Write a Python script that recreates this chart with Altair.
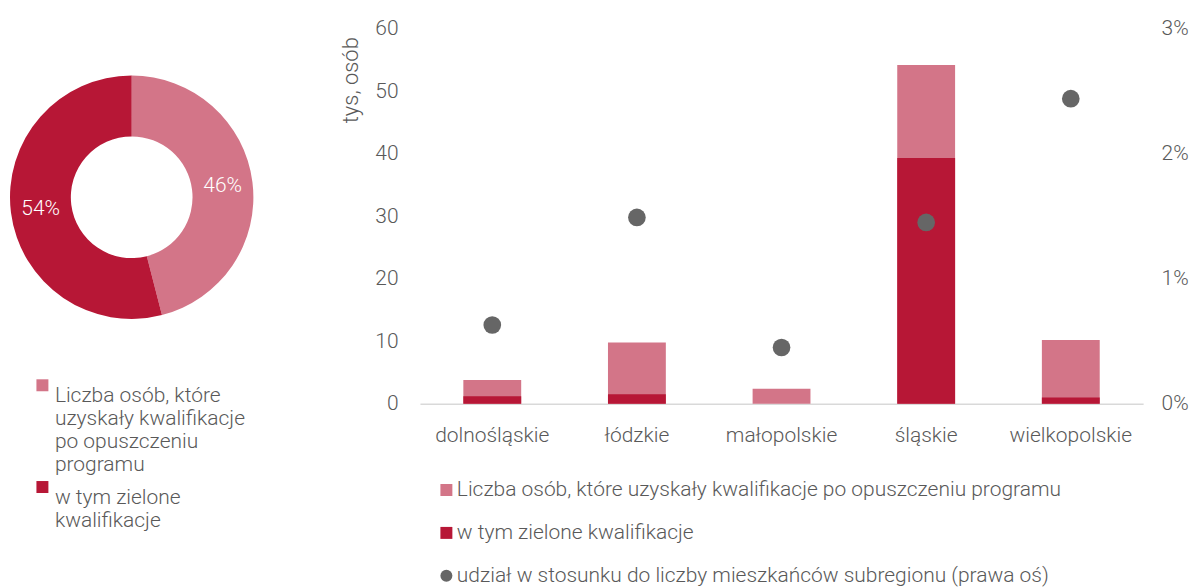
import altair as alt
import pandas as pd

FONT = "Roboto"
FW = 300
FS = 21
GRAY = "#595959"

regions = ["dolnośląskie", "łódzkie", "małopolskie", "śląskie", "wielkopolskie"]
total_qual = [3.8, 9.8, 2.4, 54.2, 10.2]      # tys. osób
green_qual = [1.2, 1.5, 0.0, 39.3, 1.0]       # tys. osób
share_pct = [0.63, 1.49, 0.45, 1.45, 2.44]    # % (prawa oś)

series_names = [
    "Liczba osób, które uzyskały kwalifikacje po opuszczeniu programu",
    "w tym zielone kwalifikacje",
    "udział w stosunku do liczby mieszkańców subregionu (prawa oś)",
]
series_colors = ["#D37588", "#B71736", "#666666"]
series_shapes = ["square", "square", "circle"]

donut_cats = ["Liczba osób, które uzyskały kwalifikacje po opuszczeniu programu",
              "w tym zielone kwalifikacje"]
donut_values = [46, 54]
donut_text = ["46%", "54%"]

# ---------------- tables ----------------
bar_total = pd.DataFrame({"region": regions, "series": series_names[0], "value": total_qual})
bar_green = pd.DataFrame({"region": regions, "series": series_names[1], "value": green_qual})
dots = pd.DataFrame({"region": regions, "series": series_names[2],
                     "share": [v / 100 for v in share_pct]})
donut_df = pd.DataFrame({"kat": donut_cats, "val": donut_values,
                         "ord": list(range(len(donut_cats))), "lab": donut_text})

color_scale = alt.Scale(domain=series_names, range=series_colors)
shape_scale = alt.Scale(domain=series_names, range=series_shapes)

bar_legend = alt.Legend(title=None, orient="none", legendX=16, legendY=452,
                        direction="vertical", symbolSize=144, labelFontSize=FS,
                        labelColor=GRAY, labelFont=FONT, labelFontWeight=FW,
                        rowPadding=21, labelLimit=900, labelOffset=0, padding=0)

x_enc = alt.X("region:N", sort=regions,
              scale=alt.Scale(paddingInner=0.6, paddingOuter=0.3),
              axis=alt.Axis(title=None, labelAngle=0, labelFontSize=FS, labelColor=GRAY,
                            labelFont=FONT, labelFontWeight=FW, labelPadding=21,
                            ticks=False, tickSize=0, domainColor="#D9D9D9", domainWidth=1.5))

y_left = alt.Y("value:Q", scale=alt.Scale(domain=[0, 60]),
               axis=alt.Axis(title="tys, osób", titleFontSize=22, titleColor=GRAY,
                             titleFont=FONT, titleFontWeight=FW, titleAnchor="end",
                             titleAngle=270, titlePadding=12, titleY=8,
                             values=list(range(0, 61, 10)), labelFontSize=FS,
                             labelColor=GRAY, labelFont=FONT, labelFontWeight=FW,
                             labelPadding=22, ticks=False, tickSize=0, domain=False,
                             grid=False))

bars_total = alt.Chart(bar_total).mark_bar().encode(
    x=x_enc, y=y_left,
    color=alt.Color("series:N", scale=color_scale, legend=bar_legend),
)
bars_green = alt.Chart(bar_green).mark_bar().encode(
    x=x_enc, y=alt.Y("value:Q", scale=alt.Scale(domain=[0, 60])),
    color=alt.Color("series:N", scale=color_scale, legend=bar_legend),
)
bars = alt.layer(bars_total, bars_green)

points = alt.Chart(dots).mark_point(filled=True, size=314, opacity=1).encode(
    x=x_enc,
    y=alt.Y("share:Q", scale=alt.Scale(domain=[0, 0.03]),
            axis=alt.Axis(orient="right", title=None, format=".0%",
                          values=[0, 0.01, 0.02, 0.03], labelFontSize=FS,
                          labelColor=GRAY, labelFont=FONT, labelFontWeight=FW,
                          labelPadding=18, ticks=False, tickSize=0, domain=False,
                          grid=False)),
    color=alt.Color("series:N", scale=color_scale, legend=bar_legend),
    shape=alt.Shape("series:N", scale=shape_scale, legend=bar_legend),
)

bar_chart = alt.layer(bars, points).resolve_scale(
    y="independent").properties(width=725, height=376)

# ---------------- donut ----------------
label_expr = ("datum.label == 'w tym zielone kwalifikacje' ? ['w tym zielone', 'kwalifikacje'] : "
              "['Liczba osób, które', 'uzyskały kwalifikacje', 'po opuszczeniu', 'programu']")

donut_base = alt.Chart(donut_df).encode(
    theta=alt.Theta("val:Q", stack=True),
    order=alt.Order("ord:Q"),
)
arc = donut_base.mark_arc(innerRadius=61, outerRadius=122).encode(
    color=alt.Color("kat:N", scale=alt.Scale(domain=donut_cats, range=series_colors[:2]),
                    legend=alt.Legend(title=None, orient="none", legendX=24, legendY=347,
                                      direction="vertical", symbolType="square",
                                      symbolSize=144, labelFontSize=FS, labelColor=GRAY,
                                      labelFont=FONT, labelFontWeight=FW,
                                      labelExpr=label_expr, labelBaseline="top",
                                      labelLimit=400, labelOffset=2, rowPadding=1,
                                      padding=0))
)
arc_text = donut_base.mark_text(radius=92, fontSize=FS, font=FONT, fontWeight=FW,
                                color="white").encode(text="lab:N")
donut = alt.layer(arc, arc_text).properties(width=248, height=338)

chart = alt.hconcat(donut, bar_chart, spacing=84).resolve_scale(
    color="independent", shape="independent"
).properties(
    padding={"left": 0, "top": 9, "right": 0, "bottom": 0}
).configure_view(stroke=None)

chart.save("out.html", embed_options={"renderer": "svg", "actions": False})
